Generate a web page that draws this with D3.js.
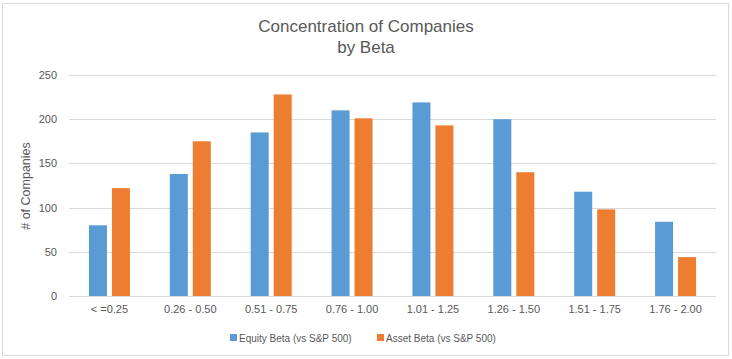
<!DOCTYPE html>
<html><head><meta charset="utf-8">
<script src="https://cdn.jsdelivr.net/npm/d3@7"></script>
<style>body{margin:0;background:#fff}svg{display:block}</style>
</head><body>
<script>
const categories = ["< =0.25","0.26 - 0.50","0.51 - 0.75","0.76 - 1.00","1.01 - 1.25","1.26 - 1.50","1.51 - 1.75","1.76 - 2.00"];
const seriesNames = ["Equity Beta (vs S&P 500)","Asset Beta (vs S&P 500)"];
const equityBeta = [80, 138, 185, 210, 219, 200, 118, 84];
const assetBeta = [122, 175, 228, 201, 193, 140, 98, 44];
const yTicks = [0, 50, 100, 150, 200, 250];
const colors = ["#5b9bd5", "#ed7d31"];

const W = 732, H = 359;
const m = {left: 69, right: 16, top: 75, bottom: 63};
const font = "'Liberation Sans', Arial, sans-serif";
const svg = d3.select("body").append("svg").attr("width", W).attr("height", H);
svg.append("rect").attr("x", 2.5).attr("y", 3.5).attr("width", W - 6).attr("height", H - 7)
  .attr("fill", "#fff").attr("stroke", "#d9d9d9");

const x = d3.scaleBand().domain(categories).range([m.left, W - m.right]);
const x1 = d3.scaleBand().domain([0, 1]).range([0, x.bandwidth()]).paddingInner(0.217).paddingOuter(0.867);
const y = d3.scaleLinear().domain([0, 250]).range([H - m.bottom, m.top]);

// gridlines
svg.append("g").selectAll("line").data(yTicks).join("line")
  .attr("x1", m.left).attr("x2", W - m.right)
  .attr("y1", d => Math.round(y(d)) + 0.5).attr("y2", d => Math.round(y(d)) + 0.5)
  .attr("stroke", "#d9d9d9");

// y axis labels
const yAxis = svg.append("g").attr("transform", `translate(${m.left - 12},0)`)
  .call(d3.axisLeft(y).tickValues(yTicks).tickSize(0).tickPadding(0));
yAxis.select(".domain").remove();
yAxis.selectAll("text").attr("fill", "#595959").style("font", `11px ${font}`);

// x axis labels
const xAxis = svg.append("g").attr("transform", `translate(0,${H - m.bottom + 9})`)
  .call(d3.axisBottom(x).tickSize(0).tickPadding(0));
xAxis.select(".domain").remove();
xAxis.selectAll("text").attr("fill", "#595959").style("font", `11px ${font}`);

// bars
const data = categories.map((c, i) => ({c, v: [equityBeta[i], assetBeta[i]]}));
svg.append("g").selectAll("g").data(data).join("g")
  .attr("transform", d => `translate(${x(d.c)},0)`)
  .selectAll("rect").data(d => d.v.map((v, k) => ({v, k}))).join("rect")
  .attr("x", d => x1(d.k)).attr("width", x1.bandwidth())
  .attr("y", d => y(d.v)).attr("height", d => y(0) - y(d.v))
  .attr("fill", d => colors[d.k]);

// title
const title = svg.append("text").attr("text-anchor", "middle").attr("fill", "#595959")
  .style("font", `17px ${font}`);
title.append("tspan").attr("x", 366).attr("y", 32).text("Concentration of Companies");
title.append("tspan").attr("x", 366).attr("y", 53).text("by Beta");

// y axis title
svg.append("text").attr("transform", "translate(30,186) rotate(-90)")
  .attr("text-anchor", "middle").attr("fill", "#595959")
  .style("font", `12.5px ${font}`).text("# of Companies");

// legend
const legendX = [230, 377];
const lg = svg.append("g").selectAll("g").data(seriesNames).join("g")
  .attr("transform", (d, i) => `translate(${legendX[i]},334)`);
lg.append("rect").attr("width", 7).attr("height", 7).attr("fill", (d, i) => colors[i]);
lg.append("text").attr("x", 9).attr("y", 7.5).attr("fill", "#595959")
  .style("font", `10px ${font}`).text(d => d);
</script>
</body></html>
